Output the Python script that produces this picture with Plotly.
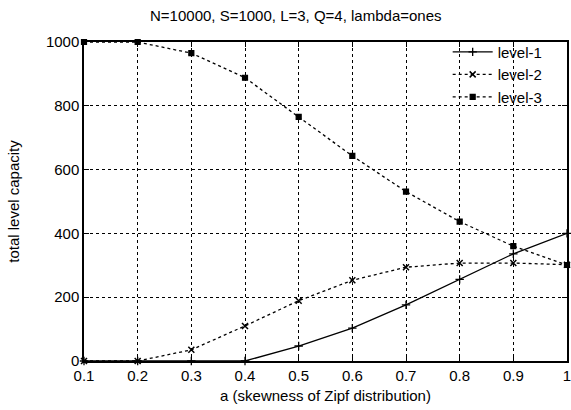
import plotly.graph_objects as go

a_vals = [0.1, 0.2, 0.3, 0.4, 0.5, 0.6, 0.7, 0.8, 0.9, 1.0]
level1 = [0, 0, 0, 0, 47, 103, 176, 256, 336, 400]
level2 = [0, 0, 35, 110, 189, 253, 294, 307, 307, 302]
level3 = [1000, 1000, 965, 888, 765, 643, 531, 437, 360, 301]

x_ticks = [0.1, 0.2, 0.3, 0.4, 0.5, 0.6, 0.7, 0.8, 0.9, 1.0]
x_ticktext = ["0.1", "0.2", "0.3", "0.4", "0.5", "0.6", "0.7", "0.8", "0.9", "1"]
y_ticks = [0, 200, 400, 600, 800, 1000]

FONT = "Liberation Sans, Arial, Helvetica, sans-serif"

fig = go.Figure()
fig.add_trace(go.Scatter(x=a_vals, y=level1, name="level-1", mode="lines+markers",
                         line=dict(color="black", width=1.3),
                         marker=dict(symbol="cross-thin-open", size=6, color="black",
                                     line=dict(color="black", width=1.3)),
                         cliponaxis=False))
fig.add_trace(go.Scatter(x=a_vals, y=level2, name="level-2", mode="lines+markers",
                         line=dict(color="black", width=1.3, dash="3px,3px"),
                         marker=dict(symbol="x-thin-open", size=6, color="black",
                                     line=dict(color="black", width=1.5)),
                         cliponaxis=False))
fig.add_trace(go.Scatter(x=a_vals, y=level3, name="level-3", mode="lines+markers",
                         line=dict(color="black", width=1.3, dash="3px,3px"),
                         marker=dict(symbol="square-x", size=5, color="black",
                                     line=dict(color="black", width=1.2)),
                         cliponaxis=False))

axis_common = dict(
    showline=True, linecolor="black", linewidth=1.5, mirror="ticks",
    ticks="inside", ticklen=5, tickcolor="black", tickwidth=1,
    showgrid=True, gridcolor="black", gridwidth=1, griddash="3px,3px",
    zeroline=False, tickfont=dict(family=FONT, size=15, color="black"),
    ticklabeloverflow="allow",
)

fig.update_xaxes(range=[0.1, 1.0], tickvals=x_ticks, ticktext=x_ticktext,
                 title=dict(text="a (skewness of Zipf distribution)",
                            font=dict(family=FONT, size=15, color="black"), standoff=8),
                 **axis_common)
fig.update_yaxes(range=[0, 1000], tickvals=y_ticks,
                 title=dict(text="total level capacity",
                            font=dict(family=FONT, size=15, color="black"), standoff=23),
                 **axis_common)

fig.update_layout(
    width=571, height=410,
    margin=dict(l=84, r=4, t=42, b=49, autoexpand=False),
    paper_bgcolor="white", plot_bgcolor="white",
    font=dict(family=FONT, size=15, color="black"),
    title=dict(text="N=10000, S=1000, L=3, Q=4, lambda=ones",
               font=dict(family=FONT, size=15, color="black"),
               x=0.518, xanchor="center", y=0.961, yanchor="middle"),
    legend=dict(x=0.96, y=1.02, xanchor="right", yanchor="top",
                bgcolor="rgba(0,0,0,0)", font=dict(family=FONT, size=15, color="black"),
                tracegroupgap=0, itemwidth=40),
    showlegend=True,
)

fig.write_html("out.html", config={"displayModeBar": False},
               post_script="document.body.style.margin='0';document.body.style.overflow='hidden';")
